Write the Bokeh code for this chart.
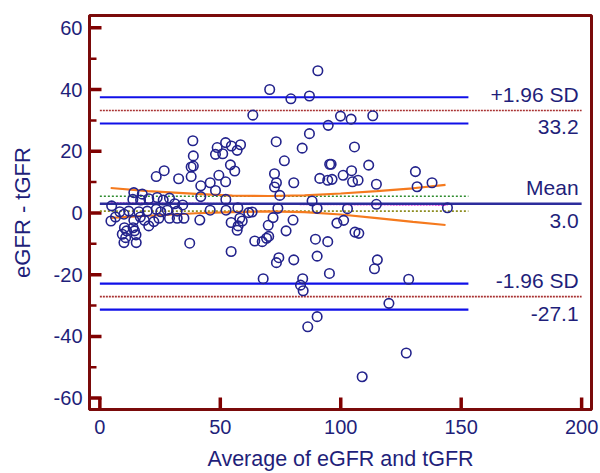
from bokeh.plotting import figure
from bokeh.models import Range1d, SingleIntervalTicker, ColumnDataSource
from bokeh.core.properties import value
from bokeh.embed import file_html
from bokeh.resources import INLINE

# ---- data ----
avg_vals = [4.9,4.6,8.3,6.5,10.0,10.2,11.1,9.3,10.7,13.8,14.4,15.0,10.0,15.1,14.1,13.7,17.6,16.9,20.3,23.8,
            26.3,28.9,31.1,34.4,12.0,16.2,19.7,23.4,25.3,28.0,32.1,14.1,18.5,20.3,22.4,24.5,28.9,32.1,34.9,16.8,
            38.6,38.8,37.9,38.8,37.9,23.4,26.7,32.7,41.9,45.8,48.0,41.9,45.8,41.5,37.3,
            52.2,54.6,58.4,51.0,57.0,48.7,48.0,54.2,56.0,49.4,52.2,52.3,52.4,57.3,61.8,63.2,54.5,58.1,59.1,57.4,57.0,54.5,
            63.5,70.5,79.3,87.0,90.5,73.2,87.0,84.0,76.6,95.4,96.0,72.5,73.3,72.5,80.5,91.3,94.6,96.4,74.7,88.1,
            90.2,73.9,71.9,80.2,69.9,77.3,70.1,69.2,67.4,64.3,89.5,94.6,74.3,73.3,80.5,90.2,95.3,67.8,84.2,83.3,
            84.4,90.2,86.3,
            99.9,104.3,113.3,94.8,105.7,111.6,101.0,104.5,104.9,107.2,114.8,131.0,131.7,137.9,102.8,114.8,144.3,
            101.2,98.4,105.9,107.5,115.2,114.0,128.2,120.0,127.2,108.9]
diff_vals = [2.3,-2.6,0.4,-1.3,-0.4,-4.8,-5.8,-6.9,-8.0,-4.8,-5.8,-7.1,-9.6,-9.6,6.6,4.4,6.1,4.2,4.6,5.0,
             4.2,4.8,3.0,2.6,0.6,0.4,0.6,1.2,0.4,0.9,0.6,-2.4,-2.4,-4.2,-2.8,-1.7,-1.7,-1.7,-1.7,-1.3,
             23.4,18.5,14.9,15.2,11.8,11.8,13.7,11.1,8.8,9.8,7.3,5.3,0.9,-2.3,-9.8,
             22.8,21.7,22.1,19.2,20.3,21.2,19.0,15.6,13.6,12.2,10.1,4.4,0.9,1.7,0.1,0.3,-3.1,-1.7,-2.6,-4.2,-5.6,-12.5,
             31.7,40.0,37.0,37.9,46.1,23.1,25.7,21.0,16.9,15.8,15.8,12.7,9.8,8.4,9.8,11.2,10.6,10.9,5.7,3.9,
             1.5,1.5,-1.5,-2.3,-4.0,-5.8,-7.6,-8.2,-9.3,-9.1,-8.5,-9.3,-14.5,-16.1,-15.2,-14.0,-19.6,-21.3,-21.3,-23.4,
             -25.2,-33.6,-36.9,
             31.4,30.4,31.5,28.4,21.4,15.5,12.2,13.7,10.1,10.6,9.3,13.4,8.5,9.8,1.4,2.8,1.7,
             -2.4,-3.3,-6.2,-6.6,-15.2,-18.1,-21.5,-29.3,-45.4,-53.1]

mean_diff = 3.0
upper_loa = 33.2
lower_loa = -27.1
upper_loa_ci = [29.0, 37.5]
lower_loa_ci = [-31.3, -22.9]
mean_ci = [0.6, 5.4]
ci_x_end = 153.0
line_x_end = 200.0

curve_x = [4.5, 20, 40, 55, 70, 85, 100, 115, 130, 143.5]
curve_upper = [8.1, 7.1, 6.2, 5.6, 5.5, 5.7, 6.3, 7.1, 8.0, 9.1]
curve_lower = [-1.6, -0.9, -0.1, 0.3, 0.5, 0.3, -0.5, -1.7, -2.9, -3.9]
reg_x = [4.5, 144.3]
reg_y = [3.2, 2.6]

x_ticks = [0, 50, 100, 150, 200]
y_ticks = [-60, -40, -20, 0, 20, 40, 60]
y_minor = [t + 10 for t in y_ticks[:-1]]

NAVY = "#1f1f7a"
FRAME = "#7a0a0a"
FONT = "Liberation Sans"

X0, X1 = -4.3, 204.1
Y0, Y1 = -63.7, 64.0
FRAME_W, FRAME_H = 502, 394   # px, used only to size the inward ticks
tick_dx = 12 * (X1 - X0) / FRAME_W
minor_dx = 7 * (X1 - X0) / FRAME_W
tick_dy = 12 * (Y1 - Y0) / FRAME_H

p = figure(width=600, height=473, output_backend="svg", toolbar_location=None,
           x_range=Range1d(X0, X1), y_range=Range1d(Y0, Y1),
           min_border_top=15, min_border_right=9, min_border_left=89, min_border_bottom=64)
p.grid.visible = False
p.outline_line_color = FRAME
p.outline_line_width = 3
p.background_fill_color = "white"
p.border_fill_color = "white"

for ax in (p.xaxis[0], p.yaxis[0]):
    ax.axis_line_color = FRAME
    ax.axis_line_width = 3
    ax.major_tick_line_color = None
    ax.minor_tick_line_color = None
    ax.major_tick_in = 0
    ax.major_tick_out = 0
    ax.minor_tick_in = 0
    ax.minor_tick_out = 0
    ax.major_label_text_font = FONT
    ax.major_label_text_font_size = "20px"
    ax.major_label_text_color = NAVY
    ax.axis_label_text_font = FONT
    ax.axis_label_text_font_style = "normal"
    ax.axis_label_text_color = NAVY

p.xaxis.ticker = SingleIntervalTicker(interval=50, num_minor_ticks=0)
p.yaxis.ticker = SingleIntervalTicker(interval=20, num_minor_ticks=0)
p.xaxis.major_label_overrides = {t: str(t) for t in x_ticks}
p.yaxis.major_label_overrides = {t: str(t) for t in y_ticks}
p.xaxis.axis_label = "Average of eGFR and tGFR"
p.yaxis.axis_label = "eGFR - tGFR"
p.xaxis.axis_label_text_font_size = "21.5px"
p.yaxis.axis_label_text_font_size = "22px"
p.xaxis.major_label_standoff = 10
p.xaxis.axis_label_standoff = 10
p.yaxis.major_label_standoff = 7
p.yaxis.axis_label_standoff = 16

# inward tick marks
tick_src_y = ColumnDataSource(dict(x0=[X0] * len(y_ticks), x1=[X0 + tick_dx] * len(y_ticks), y=y_ticks))
tick_src_m = ColumnDataSource(dict(x0=[X0] * len(y_minor), x1=[X0 + minor_dx] * len(y_minor), y=y_minor))
tick_src_x = ColumnDataSource(dict(x=x_ticks, y0=[Y0] * len(x_ticks), y1=[Y0 + tick_dy] * len(x_ticks)))
p.segment(x0="x0", y0="y", x1="x1", y1="y", source=tick_src_y, line_color="#800000", line_width=3.5)
p.segment(x0="x0", y0="y", x1="x1", y1="y", source=tick_src_m, line_color="#800000", line_width=2.5)
p.segment(x0="x", y0="y0", x1="x", y1="y1", source=tick_src_x, line_color="#800000", line_width=3.5)

# limits of agreement (dotted) and their CIs (blue)
for yv in (upper_loa, lower_loa):
    p.line([0, line_x_end], [yv, yv], line_color="#a83232", line_width=1.6, line_dash="2 1")
for yv in upper_loa_ci + lower_loa_ci:
    p.line([0, ci_x_end], [yv, yv], line_color="#1010e8", line_width=2.2)

# mean CI lines
p.line([0, ci_x_end], [mean_ci[1], mean_ci[1]], line_color="#2e8b2e", line_width=1.6, line_dash="2 2")
p.line([0, ci_x_end], [mean_ci[0], mean_ci[0]], line_color="#8c8c1e", line_width=1.6, line_dash="2 2")

# regression (magenta dotted)
p.line(reg_x, reg_y, line_color="#e040e0", line_width=2, line_dash="2 1")

# mean line
p.line([0, line_x_end], [mean_diff, mean_diff], line_color="#2c2c9c", line_width=2.6)

# orange curves
p.line(curve_x, curve_upper, line_color="#f57a1e", line_width=2.2)
p.line(curve_x, curve_lower, line_color="#f57a1e", line_width=2.2)

# points
p.scatter(avg_vals, diff_vals, marker="circle", size=9.5, line_color="#23238c",
          fill_color=None, line_width=1.6)

# right-side labels
lab_text = ["+1.96 SD", f"{upper_loa:.1f}", "Mean", f"{mean_diff:.1f}", "-1.96 SD", f"{lower_loa:.1f}"]
lab_y = [upper_loa, upper_loa, mean_diff, mean_diff, lower_loa, lower_loa]
lab_off = [-16, 16, -16, 17, -16, 17]
src = ColumnDataSource(dict(x=[line_x_end] * 6, y=lab_y, t=lab_text, off=lab_off))
p.text(x="x", y="y", text="t", y_offset="off", x_offset=-3, source=src,
       text_align="right", text_baseline="middle",
       text_font=value(FONT), text_font_size="21px", text_color=NAVY)

open("out.html", "w").write(file_html(p, INLINE))
